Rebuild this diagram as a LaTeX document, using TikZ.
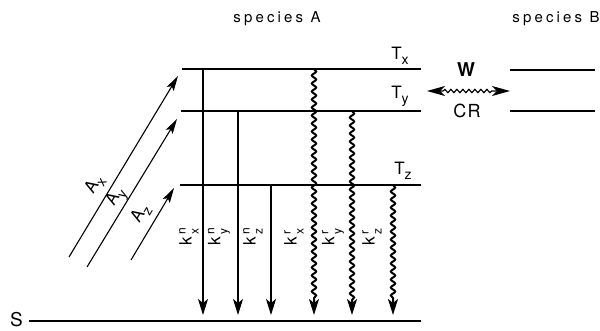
\documentclass[tikz,border=0pt]{standalone}
\usepackage{fontspec}
\setmainfont{TeX Gyre Heros}[LetterSpace=8]
\newfontfamily\spaced[LetterSpace=21]{TeX Gyre Heros}
\usetikzlibrary{arrows.meta,decorations.pathmorphing}
\newcommand{\kk}[2]{k\kern2.5pt\makebox[0pt][l]{\raisebox{6pt}{\fontsize{12}{12}\selectfont #1}}\raisebox{-7pt}{\fontsize{12}{12}\selectfont\kern0.5pt #2}}
\newcommand{\sub}[2]{#1\raisebox{-5pt}{\fontsize{14}{14}\selectfont #2}}
\begin{document}
\begin{tikzpicture}[x=1pt,y=-1pt,
  level/.style={line width=1.5pt},
  tip/.style={-{Stealth[length=16pt,width=10pt,inset=4pt]}},
  nrad/.style={line width=1.1pt,tip},
  rad/.style={line width=2pt,tip,decorate,
    decoration={snake,amplitude=2.2pt,segment length=8pt,post length=15pt}},
  absarr/.style={line width=1.1pt,-{Stealth[length=15pt,width=8pt,inset=3pt]}},
  lab/.style={font=\fontsize{17}{17}\selectfont, inner sep=0pt},
  klab/.style={lab, rotate=90},
  alab/.style={lab, rotate=59}]
\useasboundingbox (0,0) rectangle (600,330);
% species titles
\node[lab, font=\fontsize{15}{15}\selectfont] (spA) at (277,19) {\spaced species A};
\node[lab, font=\fontsize{15}{15}\selectfont] (spB) at (556,19) {\spaced species B};
% levels of species A
\coordinate (TxL) at (182,69);  \coordinate (TxR) at (421,69);
\coordinate (TyL) at (181,111); \coordinate (TyR) at (421,111);
\coordinate (TzL) at (180,185); \coordinate (TzR) at (421,185);
\coordinate (SL) at (29,321);   \coordinate (SR) at (421,321);
\draw[level] (TxL) -- (TxR);
\draw[level] (TyL) -- (TyR);
\draw[level] (TzL) -- (TzR);
\draw[level] (SL) -- (SR);
\node[lab, font=\fontsize{19}{19}\selectfont] (S) at (16.5,320) {S};
\node[lab] (Tx) at (400,56) {\sub{T}{x}};
\node[lab] (Ty) at (400,96) {\sub{T}{y}};
\node[lab] (Tz) at (403,171) {\sub{T}{z}};
% species B levels
\coordinate (BxL) at (510,70); \coordinate (BxR) at (595,70);
\coordinate (ByL) at (510,111); \coordinate (ByR) at (595,111);
\draw[level] (BxL) -- (BxR);
\draw[level] (ByL) -- (ByR);
% energy transfer
\coordinate (WL) at (427,91); \coordinate (WR) at (510,91);
\draw[line width=1.2pt,{Stealth[length=18pt,width=10pt,inset=5pt]}-{Stealth[length=18pt,width=10pt,inset=5pt]},decorate,
  decoration={snake,amplitude=1.6pt,segment length=6pt,pre length=16pt,post length=16pt}] (WL) -- (WR);
\node[lab, font=\fontsize{19}{19}\selectfont\bfseries] (W) at (466,70) {W};
\node[lab, font=\fontsize{18}{18}\selectfont] (CR) at (467,111) {CR};
% nonradiative decays
\coordinate (nx1) at (203,69);  \coordinate (nx2) at (203,315);
\coordinate (ny1) at (238,111); \coordinate (ny2) at (238,315);
\coordinate (nz1) at (271,185); \coordinate (nz2) at (271,315);
\draw[nrad] (nx1) -- (nx2);
\draw[nrad] (ny1) -- (ny2);
\draw[nrad] (nz1) -- (nz2);
% radiative decays
\coordinate (rx1) at (314,69);  \coordinate (rx2) at (314,315);
\coordinate (ry1) at (352,111); \coordinate (ry2) at (352,315);
\coordinate (rz1) at (393,185); \coordinate (rz2) at (393,315);
\draw[rad] (rx1) -- (rx2);
\draw[rad] (ry1) -- (ry2);
\draw[rad] (rz1) -- (rz2);
% rate labels
\node[klab] (knx) at (189,237) {\kk{n}{x}};
\node[klab] (kny) at (219,237) {\kk{n}{y}};
\node[klab] (knz) at (253,237) {\kk{n}{z}};
\node[klab] (krx) at (294,237) {\kk{r}{x}};
\node[klab] (kry) at (333,237) {\kk{r}{y}};
\node[klab] (krz) at (372,237) {\kk{r}{z}};
% absorption
\coordinate (ax1) at (69,257);  \coordinate (ax2) at (178,76);
\coordinate (ay1) at (87,267);  \coordinate (ay2) at (177,119);
\coordinate (az1) at (131,260); \coordinate (az2) at (174,188);
\draw[absarr] (ax1) -- (ax2);
\draw[absarr] (ay1) -- (ay2);
\draw[absarr] (az1) -- (az2);
\node[alab] (Ax) at (95,185) {\sub{A}{x}};
\node[alab] (Ay) at (117,198) {\sub{A}{y}};
\node[alab] (Az) at (141,214) {\sub{A}{z}};
\end{tikzpicture}
\end{document}
